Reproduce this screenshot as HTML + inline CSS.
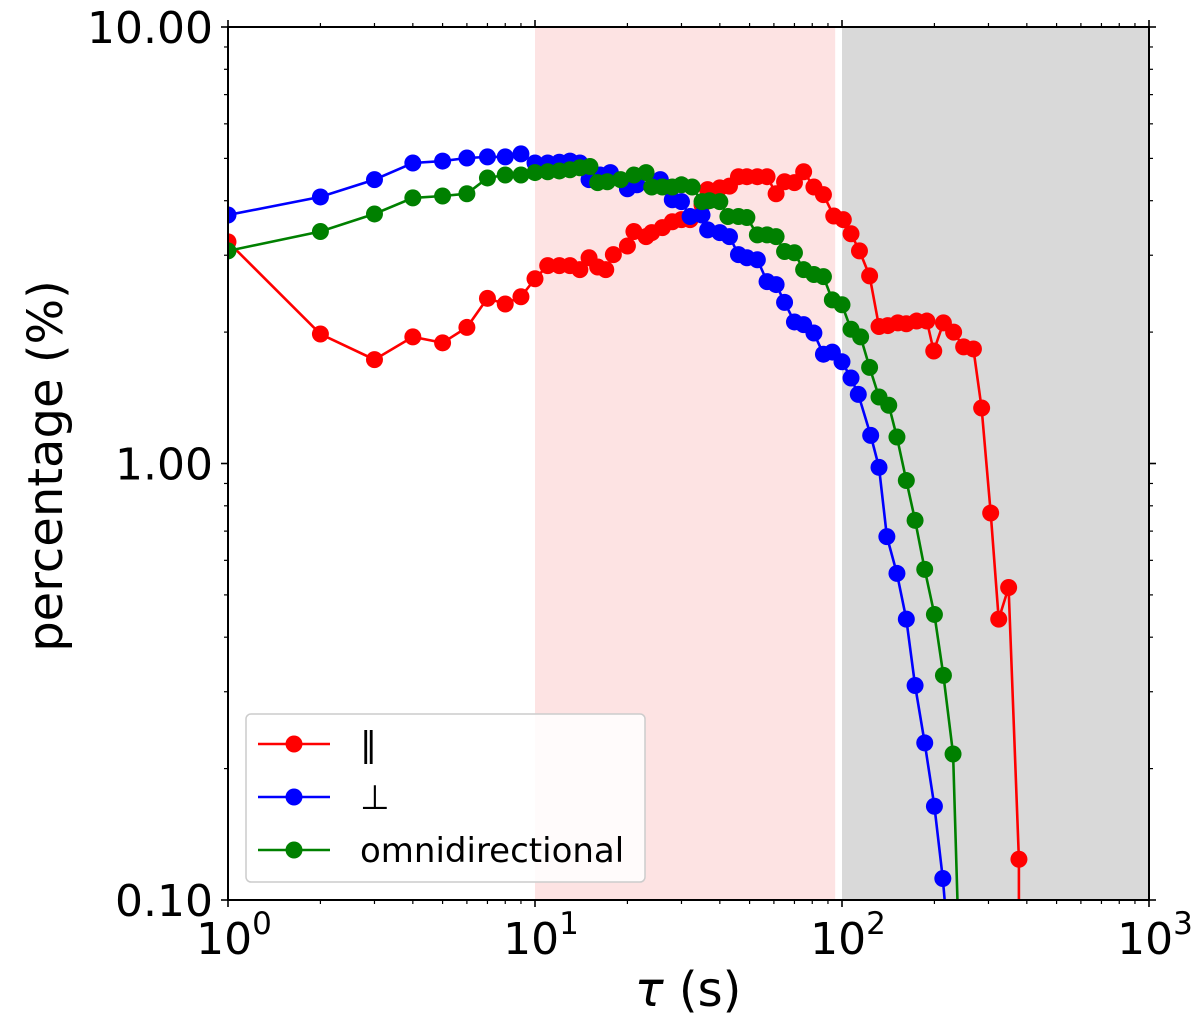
<!DOCTYPE html>
<html><head><meta charset="utf-8"><style>
html,body{margin:0;padding:0;background:#fff;overflow:hidden;width:1200px;height:1026px;}
svg{display:block;font-family:"DejaVu Sans","Liberation Sans",sans-serif;overflow:hidden;}
</style></head><body>
<svg id="chart" width="1200" height="1026" viewBox="0 0 1200 1026" xmlns="http://www.w3.org/2000/svg">
<defs><clipPath id="clip"><rect x="228" y="27" width="921" height="873"/></clipPath></defs>
<g id="bg"></g>
<g id="series" clip-path="url(#clip)"></g>
<g id="axes"></g>
<g id="legend"></g>
</svg>
<script>
const parTau = [1,2,3,4,5,6,7,8,9,10,11,12,13,14,15,16,17,18,20,21,23,24,26,28,30,32,35,36.5,40,43,46,49,53,57,61,65,70,75,81,87,94,101,107,114,123,132,141,152,162,175,189,199,214,231,249,268,285,305,324,349,377,377];
const parVal = [3.22,1.98,1.73,1.95,1.89,2.05,2.39,2.32,2.41,2.65,2.84,2.84,2.84,2.78,2.96,2.82,2.78,3.01,3.15,3.40,3.31,3.38,3.47,3.58,3.62,3.62,3.91,4.24,4.28,4.32,4.54,4.54,4.54,4.54,4.15,4.42,4.40,4.66,4.30,4.13,3.69,3.62,3.36,3.07,2.69,2.06,2.07,2.10,2.09,2.12,2.12,1.81,2.10,2.00,1.85,1.83,1.34,0.77,0.44,0.52,0.124,0.07];
const perpTau = [1,2,3,4,5,6,7,8,9,10,11,12,13,14,15,16.3,17.6,20,21.5,25.6,28,30,32,35,36.5,40,43,46,49,53,57,61,65,70,75,81,87,93,100,107,113,124,132,140,151,162,173,186,200,213,222];
const perpVal = [3.71,4.08,4.47,4.88,4.93,5.01,5.04,5.04,5.12,4.88,4.88,4.90,4.93,4.88,4.47,4.58,4.64,4.26,4.35,4.47,4.02,3.98,3.68,3.71,3.43,3.38,3.31,3.01,2.96,2.93,2.61,2.57,2.34,2.11,2.08,1.99,1.78,1.80,1.71,1.57,1.44,1.16,0.98,0.68,0.56,0.44,0.31,0.229,0.164,0.112,0.08];
const omniTau = [1,2,3,4,5,6,7,8,9,10,11,12,13,14,15.1,16,17.2,19,21,23,24,26,28,30,32.5,35,37,40,42.5,46,49,53,57,61,65,70,75,81,87,93,100,107,115,123,132,142,151,162,173,186,200,214,230,240];
const omniVal = [3.07,3.40,3.73,4.06,4.10,4.15,4.51,4.58,4.58,4.64,4.66,4.68,4.71,4.76,4.79,4.40,4.42,4.47,4.58,4.64,4.30,4.30,4.30,4.35,4.30,3.98,4.00,3.98,3.68,3.68,3.66,3.34,3.34,3.31,3.06,3.04,2.78,2.71,2.68,2.37,2.31,2.03,1.95,1.66,1.42,1.36,1.15,0.914,0.741,0.572,0.451,0.327,0.216,0.08];
const xTicks = [1,10,100,1000];
const xTickExp = ["0","1","2","3"];
const yTicks = [0.1,1,10];
const yTickLabels = ["0.10","1.00","10.00"];

const NS="http://www.w3.org/2000/svg";
const X0=228,X1=1149,Y0=900,Y1=27;
function xs(v){return X0+(Math.log10(v)-0)/3*(X1-X0);}
function ys(v){return Y0-(Math.log10(v)+1)/2*(Y0-Y1);}
function mk(tag,attrs,parent){const e=document.createElementNS(NS,tag);for(const k in attrs)e.setAttribute(k,attrs[k]);parent.appendChild(e);return e;}
const bg=document.getElementById('bg'),ser=document.getElementById('series'),ax=document.getElementById('axes'),lg=document.getElementById('legend');

let r=mk('rect',{x:xs(10),y:Y1,width:xs(95)-xs(10),height:Y0-Y1,fill:'#fde3e3'},bg);


r=mk('rect',{x:xs(100),y:Y1,width:X1-xs(100),height:Y0-Y1,fill:'#d9d9d9'},bg);



function drawSeries(tau,val,color,name){
  const g=mk('g',{},ser);
  
  
  const pts=tau.map((t,i)=>xs(t).toFixed(1)+','+ys(val[i]).toFixed(1)).join(' ');
  const pl=mk('polyline',{points:pts,fill:'none',stroke:color,'stroke-width':2.6},g);
  
  
  tau.forEach((t,i)=>{
    if(val[i]<0.1) return;
    const c=mk('circle',{cx:xs(t),cy:ys(val[i]),r:8.5,fill:color},g);
    
    
  });
}
drawSeries(parTau,parVal,'#ff0000','parallel');
drawSeries(perpTau,perpVal,'#0000ff','perpendicular');
drawSeries(omniTau,omniVal,'#008000','omnidirectional');

let f=mk('rect',{x:X0,y:Y1,width:X1-X0,height:Y0-Y1,fill:'none',stroke:'#000','stroke-width':2},ax);


for(let d=0;d<3;d++){for(let m=2;m<=9;m++){const x=xs(m*Math.pow(10,d));
  mk('line',{x1:x,x2:x,y1:Y0,y2:Y0+4,stroke:'#000','stroke-width':1.2},ax);
  mk('line',{x1:x,x2:x,y1:Y1,y2:Y1-4,stroke:'#000','stroke-width':1.2},ax);}}
xTicks.forEach((v,i)=>{const x=xs(v);
  mk('line',{x1:x,x2:x,y1:Y0,y2:Y0+7,stroke:'#000','stroke-width':1.6},ax);
  mk('line',{x1:x,x2:x,y1:Y1,y2:Y1-7,stroke:'#000','stroke-width':1.6},ax);
  const t=mk('text',{x:x+6,y:954,'font-size':44,'text-anchor':'middle'},ax);
  
  
  t.textContent='10';
  const s=mk('tspan',{dy:-20,'font-size':31},t);s.textContent=xTickExp[i];
});
for(let d=-1;d<1;d++){for(let m=2;m<=9;m++){const y=ys(m*Math.pow(10,d));
  mk('line',{x1:X0,x2:X0-4,y1:y,y2:y,stroke:'#000','stroke-width':1.2},ax);
  mk('line',{x1:X1,x2:X1+4,y1:y,y2:y,stroke:'#000','stroke-width':1.2},ax);}}
yTicks.forEach((v,i)=>{const y=ys(v);
  mk('line',{x1:X0,x2:X0-7,y1:y,y2:y,stroke:'#000','stroke-width':1.6},ax);
  mk('line',{x1:X1,x2:X1+7,y1:y,y2:y,stroke:'#000','stroke-width':1.6},ax);
  const t=mk('text',{x:213,y:y+16,'font-size':44,'text-anchor':'end'},ax);
  
  
  t.textContent=yTickLabels[i];
});
let xt=mk('text',{x:688,y:1006,'font-size':48,'text-anchor':'middle'},ax);


xt.innerHTML='<tspan font-style="italic">τ</tspan> (s)';
let yt=mk('text',{x:0,y:0,'font-size':48,'text-anchor':'middle',transform:'translate(62,466) rotate(-90)'},ax);


yt.textContent='percentage (%)';

let lb=mk('rect',{x:246,y:714,width:399,height:168,rx:5,fill:'#fff','fill-opacity':0.85,stroke:'#ccc','stroke-width':1.5},lg);


[['‖','#ff0000','legend-parallel'],['⊥','#0000ff','legend-perpendicular'],['omnidirectional','#008000','legend-omnidirectional']].forEach((e,i)=>{
  const y=744+i*53;
  const g=mk('g',{},lg);
  
  
  mk('line',{x1:258,x2:330,y1:y,y2:y,stroke:e[1],'stroke-width':2.6},g);
  mk('circle',{cx:294,cy:y,r:8.5,fill:e[1]},g);
  const t=mk('text',{x:360,y:y+12,'font-size':34},g);
  t.textContent=e[0];
});
</script>
</body></html>
